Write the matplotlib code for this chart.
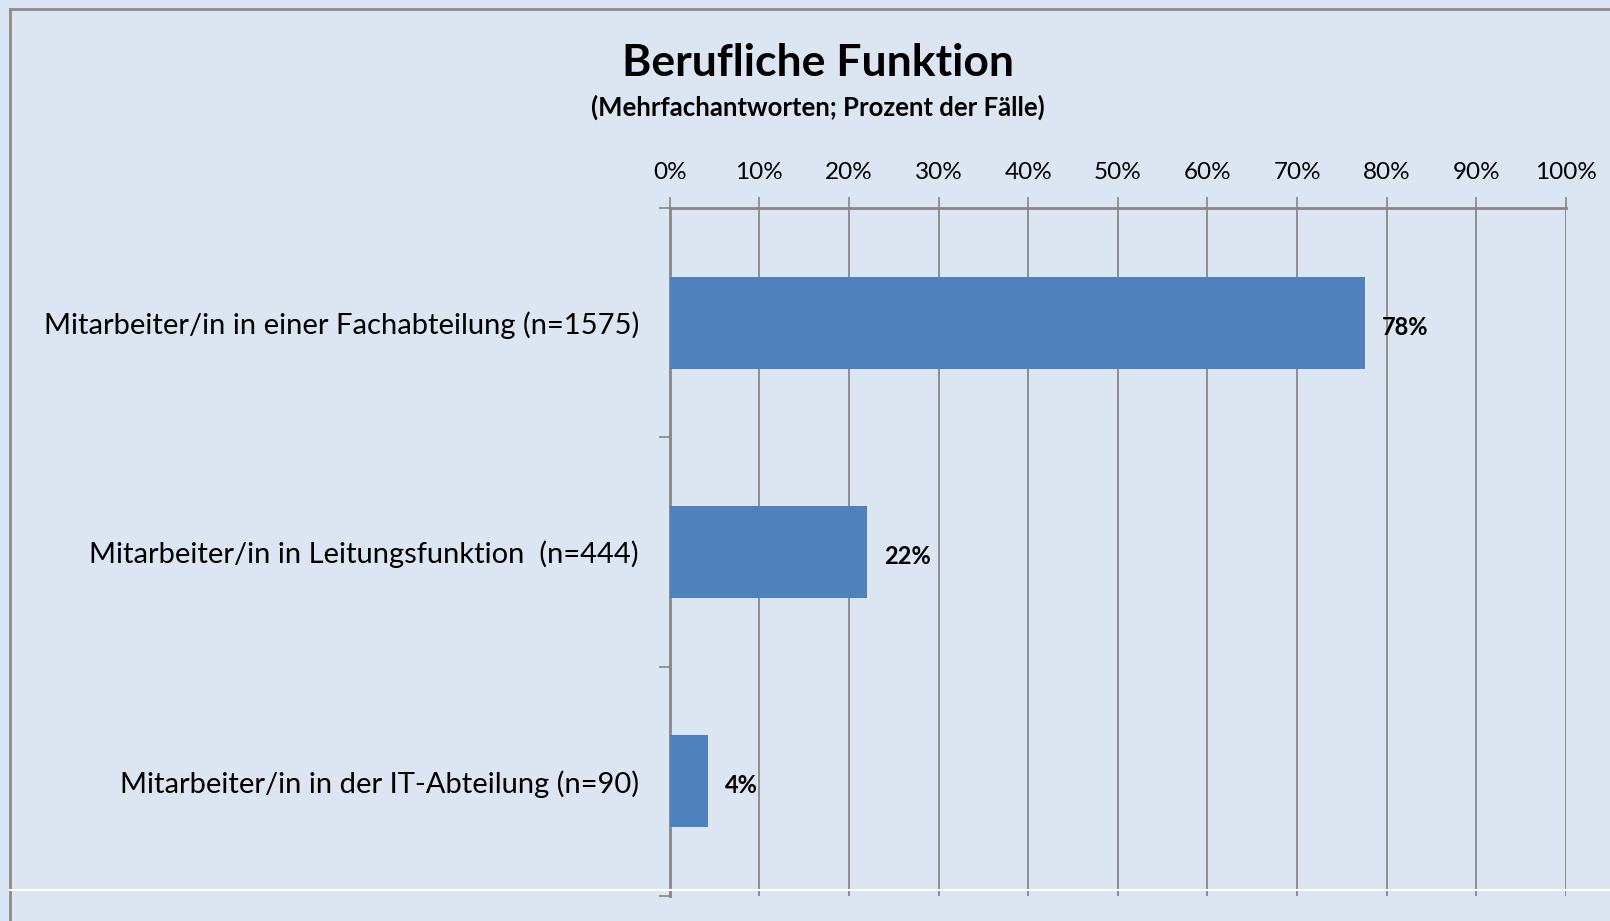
#!/usr/bin/env python3
"""Berufliche Funktion - horizontal bar chart (Excel-style)."""

import matplotlib
matplotlib.use("Agg")
import matplotlib.pyplot as plt
from matplotlib.lines import Line2D
from matplotlib.ticker import FuncFormatter

categories = [
    "Mitarbeiter/in in einer Fachabteilung (n=1575)",
    "Mitarbeiter/in in Leitungsfunktion  (n=444)",
    "Mitarbeiter/in in der IT-Abteilung (n=90)",
]
values = [77.6, 22.0, 4.3]
value_labels = ["78%", "22%", "4%"]
x_ticks = list(range(0, 101, 10))

BG = "#DCE6F2"
BAR = "#4F81BD"
GRID = "#868686"
FONT = ["Lato", "DejaVu Sans"]

plt.rcParams["font.family"] = FONT

fig = plt.figure(figsize=(16.1, 9.21), dpi=100, facecolor=BG)
ax = fig.add_axes([0.4159, 0.0271, 0.5568, 0.7471])
ax.set_facecolor(BG)

pos = list(range(len(categories)))
ax.barh(pos, values, height=0.4, color=BAR, zorder=3)
ax.set_ylim(len(categories) - 0.5, -0.5)
ax.set_xlim(0, 100)

for p, v, lab in zip(pos, values, value_labels):
    ax.text(v + 1.9, p + 0.02, lab, va="center", ha="left", fontsize=17,
            fontweight="bold", color="black", zorder=4)

# x axis on top
ax.xaxis.tick_top()
ax.set_xticks(x_ticks)
ax.xaxis.set_major_formatter(FuncFormatter(lambda x, _: f"{int(x)}%"))
ax.tick_params(axis="x", which="major", length=8, width=1.2, color=GRID,
               labelsize=17.5, pad=10)
ax.grid(axis="x", color=GRID, linewidth=1.3, zorder=1)

# y ticks at category boundaries
ax.set_yticks(pos)
ax.set_yticklabels(categories, fontsize=21)
ax.tick_params(axis="y", which="major", length=0, pad=22)
ax.set_yticks([-0.5, 0.5, 1.5, 2.5], minor=True)
ax.tick_params(axis="y", which="minor", length=8, width=1.2, color=GRID)

for s in ["right", "bottom"]:
    ax.spines[s].set_visible(False)
for s in ["top", "left"]:
    ax.spines[s].set_color(GRID)
    ax.spines[s].set_linewidth(2)

fig.text(0.508, 0.932, "Berufliche Funktion", ha="center", va="center",
         fontsize=32, fontweight="bold")
fig.text(0.508, 0.884, "(Mehrfachantworten; Prozent der Fälle)",
         ha="center", va="center", fontsize=18.5, fontweight="bold")

# chart frame
fig.add_artist(Line2D([10 / 1610, 10 / 1610], [0, 1 - 9 / 921],
                      transform=fig.transFigure, color="#8C8C8C", lw=2))
fig.add_artist(Line2D([10 / 1610, 1], [1 - 9 / 921, 1 - 9 / 921],
                      transform=fig.transFigure, color="#8C8C8C", lw=2))
fig.add_artist(Line2D([10 / 1610, 1], [1 - 890 / 921, 1 - 890 / 921],
                      transform=fig.transFigure, color="white", lw=1.5,
                      zorder=5))

fig.savefig("out.png", dpi=100, facecolor=BG)
